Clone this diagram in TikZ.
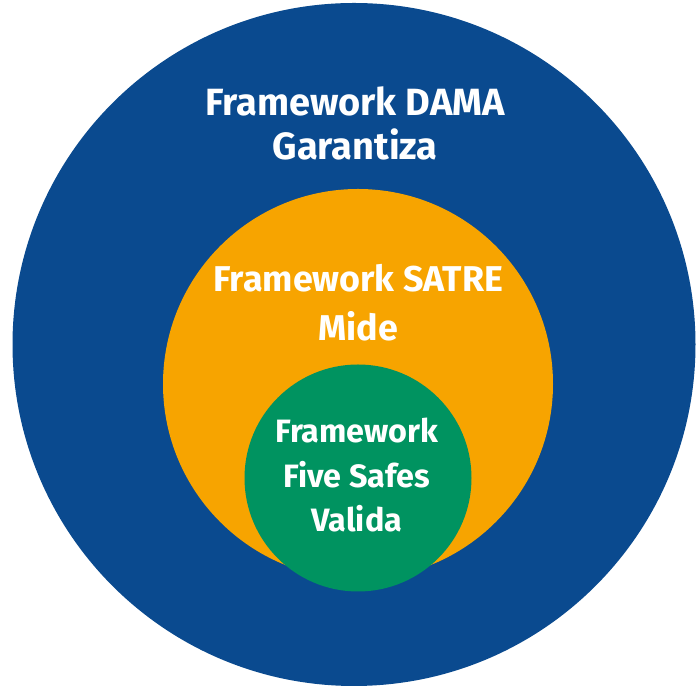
\documentclass[tikz,border=0pt]{standalone}
\usepackage{fontspec}
\setmainfont{Fira Sans}
\usepackage{tikz}
\usetikzlibrary{positioning}

\definecolor{damablue}{RGB}{10,74,143}
\definecolor{satreorange}{RGB}{247,164,0}
\definecolor{safesgreen}{RGB}{0,147,96}

\begin{document}
\begin{tikzpicture}
    [ring/.style={circle, inner sep=0pt, minimum size=#1},
    ring_label/.style={text=white, align=center, anchor=base}]
    % 画布大小
    \fill[white] (0, 0) rectangle (17.425, 17.15);
    \useasboundingbox (0, 0) rectangle (17.425, 17.15);
    % 绘制三个圆
    \node[ring=17.075cm, fill=damablue] (dama) at (8.85, 8.5375) {};
    \node[ring=9.75cm, fill=satreorange] (satre) at (8.95, 7.55) {};
    \node[ring=5.675cm, fill=safesgreen] (safes) at (8.95, 5.2) {};
    % 绘制标签(anchor=base 对应最后一行)
    \node[ring_label, font=\fontsize{27}{32}\selectfont\bfseries] (dama_label) at (8.875, 13.15) {Framework DAMA\\Garantiza};
    \node[ring_label, font=\fontsize{25.5}{35}\selectfont\bfseries] (satre_label) at (8.9625, 8.625) {Framework SATRE\\Mide};
    \node[ring_label, font=\fontsize{23}{32}\selectfont\bfseries] (safes_label) at (8.925, 3.85) {Framework\\Five Safes\\Valida};
\end{tikzpicture}
\end{document}
